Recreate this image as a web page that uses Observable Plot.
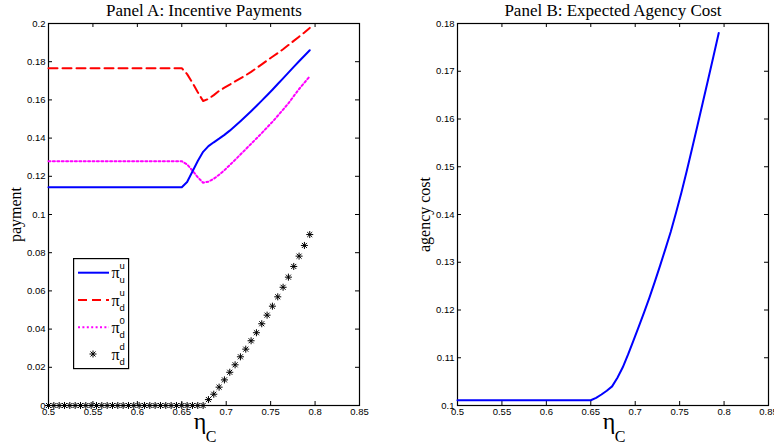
<!DOCTYPE html>
<html><head><meta charset="utf-8">
<script src="https://cdn.jsdelivr.net/npm/d3@7"></script>
<script src="https://cdn.jsdelivr.net/npm/@observablehq/plot@0.6"></script>
<style>
body{margin:0;background:#fff;}
#wrap{position:relative;width:774px;height:446px;overflow:hidden;background:#fff;}
#wrap svg{position:absolute;top:0;}
</style></head><body><div id="wrap"></div>
<script>
// ---- data ----
const eta = [0.500,0.506,0.512,0.518,0.524,0.530,0.536,0.542,0.548,0.554,0.560,0.566,0.572,0.578,0.584,0.590,0.596,0.602,0.608,0.614,0.620,0.626,0.632,0.638,0.644,0.650,
  0.656,0.662,0.668,0.674,0.680,0.686,0.692,0.698,0.704,0.710,0.716,0.722,0.728,0.734,0.740,0.746,0.752,0.758,0.764,0.770,0.776,0.782,0.788,0.794];
const piUU = [0.1143,0.1143,0.1143,0.1143,0.1143,0.1143,0.1143,0.1143,0.1143,0.1143,0.1143,0.1143,0.1143,0.1143,0.1143,0.1143,0.1143,0.1143,0.1143,0.1143,0.1143,0.1143,0.1143,0.1143,0.1143,0.1143,
  0.1170,0.1225,0.1280,0.1328,0.1358,0.1378,0.1397,0.1417,0.1439,0.1463,0.1488,0.1514,0.1541,0.1568,0.1596,0.1624,0.1653,0.1683,0.1713,0.1743,0.1773,0.1802,0.1831,0.1860];
const piDU = [0.1766,0.1766,0.1766,0.1766,0.1766,0.1766,0.1766,0.1766,0.1766,0.1766,0.1766,0.1766,0.1766,0.1766,0.1766,0.1766,0.1766,0.1766,0.1766,0.1766,0.1766,0.1766,0.1766,0.1766,0.1766,0.1766,
  0.1735,0.1690,0.1640,0.1594,0.1605,0.1625,0.1647,0.1664,0.1680,0.1697,0.1713,0.1729,0.1747,0.1766,0.1786,0.1806,0.1826,0.1845,0.1865,0.1887,0.1909,0.1931,0.1953,0.1977];
const piD0 = [0.1279,0.1279,0.1279,0.1279,0.1279,0.1279,0.1279,0.1279,0.1279,0.1279,0.1279,0.1279,0.1279,0.1279,0.1279,0.1279,0.1279,0.1279,0.1279,0.1279,0.1279,0.1279,0.1279,0.1279,0.1279,0.1279,
  0.1262,0.1230,0.1195,0.1166,0.1172,0.1187,0.1208,0.1232,0.1259,0.1286,0.1314,0.1342,0.1370,0.1398,0.1426,0.1456,0.1485,0.1517,0.1549,0.1582,0.1620,0.1657,0.1690,0.1723];
const piDD = [0,0,0,0,0,0,0,0,0,0,0,0,0,0,0,0,0,0,0,0,0,0,0,0,0,0,0,0,0,0,
  0.0031,0.0059,0.0096,0.0134,0.0174,0.0213,0.0255,0.0295,0.0339,0.0381,0.0428,0.0473,0.0520,0.0569,0.0619,0.0672,0.0728,0.0782,0.0838,0.0895];
const agencyCost = [0.1011,0.1011,0.1011,0.1011,0.1011,0.1011,0.1011,0.1011,0.1011,0.1011,0.1011,0.1011,0.1011,0.1011,0.1011,0.1011,0.1011,0.1011,0.1011,0.1011,0.1011,0.1011,0.1011,0.1011,0.1011,0.1011,
  0.1016,0.1023,0.1031,0.1040,0.1058,0.1080,0.1107,0.1136,0.1165,0.1195,0.1226,0.1259,0.1293,0.1328,0.1364,0.1404,0.1446,0.1491,0.1538,0.1586,0.1634,0.1682,0.1731,0.1780];

const xTicks = [0.5,0.55,0.6,0.65,0.7,0.75,0.8,0.85];
const xTickLabels = ["0.5","0.55","0.6","0.65","0.7","0.75","0.8","0.85"];
const yTicksA = [0,0.02,0.04,0.06,0.08,0.1,0.12,0.14,0.16,0.18,0.2];
const yTickLabelsA = ["0","0.02","0.04","0.06","0.08","0.1","0.12","0.14","0.16","0.18","0.2"];
const yTicksB = [0.1,0.11,0.12,0.13,0.14,0.15,0.16,0.17,0.18];
const yTickLabelsB = ["0.1","0.11","0.12","0.13","0.14","0.15","0.16","0.17","0.18"];

const titleA = "Panel A: Incentive Payments";
const titleB = "Panel B: Expected Agency Cost";
const yLabelA = "payment";
const yLabelB = "agency cost";
const seriesNames = ["u|u","u|d","0|d","d|d"]; // sup|sub of π

// ---- build ----
const serif = "'Liberation Serif','Times New Roman',serif";
const sans = "'Liberation Sans',Arial,Helvetica,sans-serif";
const rows = eta.map((x, i) => ({eta: x, uu: piUU[i], du: piDU[i], d0: piD0[i], dd: piDD[i], ac: agencyCost[i]}));
const fmt = (ticks, labels) => { const m = new Map(ticks.map((t, i) => [t, labels[i]])); return d => m.get(d); };

const H = 446, MT = 23, MB = 41;
function frameMarks(xt, yt, fw, fh, title, ylab) {
  return [
    Plot.tickX(xt, {x: d => d, insetTop: fh - 4, stroke: "#000"}),
    Plot.tickX(xt, {x: d => d, insetBottom: fh - 4, stroke: "#000"}),
    Plot.tickY(yt, {y: d => d, insetRight: fw - 4, stroke: "#000"}),
    Plot.tickY(yt, {y: d => d, insetLeft: fw - 4, stroke: "#000"}),
    Plot.frame({stroke: "#000", strokeWidth: 1.2}),
    Plot.text([title], {text: d => d, frameAnchor: "top", lineAnchor: "middle", dy: -13, fontFamily: serif, fontSize: 17, fill: "#000"}),
    Plot.text([ylab], {text: d => d, frameAnchor: "left", textAnchor: "middle", lineAnchor: "middle", dx: -33, rotate: -90, fontFamily: serif, fontSize: 16, fill: "#000"}),
    Plot.text(["η"], {text: d => d, frameAnchor: "bottom", dx: -4, dy: 23, fontFamily: serif, fontSize: 24, fill: "#000"}),
    Plot.text(["C"], {text: d => d, frameAnchor: "bottom", dx: 7, dy: 36, fontFamily: serif, fontSize: 16, fill: "#000"})
  ];
}

const WA = 390, MLA = 48, MRA = 31;
const plotA = Plot.plot({
  width: WA, height: H, marginLeft: MLA, marginRight: MRA, marginTop: MT, marginBottom: MB,
  style: {fontFamily: sans, fontSize: "9.5px", background: "transparent", color: "#000"},
  x: {domain: [0.5, 0.85], ticks: xTicks, tickFormat: fmt(xTicks, xTickLabels), tickSize: 0, tickPadding: 3, label: null},
  y: {domain: [0, 0.2], ticks: yTicksA, tickFormat: fmt(yTicksA, yTickLabelsA), tickSize: 0, tickPadding: 3, label: null},
  marks: [
    ...frameMarks(xTicks, yTicksA, WA - MLA - MRA, H - MT - MB, titleA, yLabelA),
    Plot.line(rows, {x: "eta", y: "du", stroke: "#ff0000", strokeWidth: 2, strokeDasharray: "9,5"}),
    Plot.line(rows, {x: "eta", y: "d0", stroke: "#ff00ff", strokeWidth: 2, strokeDasharray: "2,2.4"}),
    Plot.line(rows, {x: "eta", y: "uu", stroke: "#0000ff", strokeWidth: 2}),
    Plot.dot(rows, {x: "eta", y: "dd", symbol: "plus", r: 2.4, stroke: "#000", strokeWidth: 1}),
    Plot.dot(rows, {x: "eta", y: "dd", symbol: "times", r: 2.4, stroke: "#000", strokeWidth: 1})
  ]
});
plotA.style.left = "0px";

const WB = 384, MLB = 67, MRB = 6;
const plotB = Plot.plot({
  width: WB, height: H, marginLeft: MLB, marginRight: MRB, marginTop: MT, marginBottom: MB,
  style: {fontFamily: sans, fontSize: "9.5px", background: "transparent", color: "#000"},
  x: {domain: [0.5, 0.85], ticks: xTicks, tickFormat: fmt(xTicks, xTickLabels), tickSize: 0, tickPadding: 3, label: null},
  y: {domain: [0.1, 0.18], ticks: yTicksB, tickFormat: fmt(yTicksB, yTickLabelsB), tickSize: 0, tickPadding: 3, label: null},
  marks: [
    ...frameMarks(xTicks, yTicksB, WB - MLB - MRB, H - MT - MB, titleB, yLabelB),
    Plot.line(rows, {x: "eta", y: "ac", stroke: "#0000ff", strokeWidth: 2})
  ]
});
plotB.style.left = "390px";

const wrap = document.getElementById("wrap");
wrap.append(plotA, plotB);

// ---- legend for panel A ----
const legend = d3.create("svg").attr("width", 57).attr("height", 112)
  .style("left", "73px").style("top", "258px").style("position", "absolute");
legend.append("rect").attr("x", 0.6).attr("y", 0.6).attr("width", 55).attr("height", 110)
  .attr("fill", "#fff").attr("stroke", "#000").attr("stroke-width", 1.2);
const rowY = [14.7, 42, 69.3, 96];
const styles = [
  {stroke: "#0000ff", dash: null},
  {stroke: "#ff0000", dash: "9,5"},
  {stroke: "#ff00ff", dash: "2,2.4"},
  null
];
seriesNames.forEach((name, i) => {
  const c = rowY[i];
  const s = styles[i];
  if (s) {
    legend.append("line").attr("x1", 5).attr("x2", 36).attr("y1", c).attr("y2", c)
      .attr("stroke", s.stroke).attr("stroke-width", 2).attr("stroke-dasharray", s.dash);
  } else {
    const g = legend.append("g").attr("transform", `translate(20,${c})`).attr("stroke", "#000").attr("stroke-width", 1).attr("fill", "none");
    [d3.symbolPlus, d3.symbolTimes].forEach(sym => g.append("path").attr("d", d3.symbol(sym, Math.PI * 2.4 * 2.4)()));
  }
  const [sup, sub] = name.split("|");
  legend.append("text").attr("x", 38.5).attr("y", c + 5.6).attr("font-family", serif).attr("font-size", 16).text("π");
  legend.append("text").attr("x", 46.5).attr("y", c - 3.7).attr("font-family", sans).attr("font-size", 9.5).text(sup);
  legend.append("text").attr("x", 46.5).attr("y", c + 10.6).attr("font-family", sans).attr("font-size", 9.5).text(sub);
});
wrap.append(legend.node());
</script></body></html>
